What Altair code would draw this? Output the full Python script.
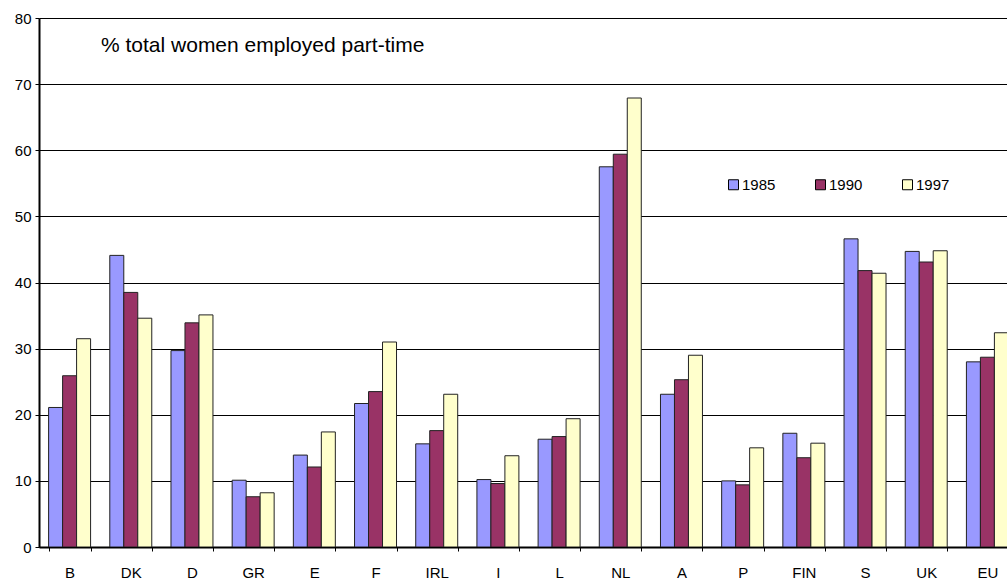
import altair as alt
import pandas as pd

countries = ["B", "DK", "D", "GR", "E", "F", "IRL", "I", "L", "NL", "A", "P", "FIN", "S", "UK", "EU"]
years = ["1985", "1990", "1997"]
v1985 = [21.1, 44.1, 29.7, 10.1, 13.9, 21.7, 15.6, 10.2, 16.3, 57.5, 23.1, 10.0, 17.2, 46.6, 44.7, 28.0]
v1990 = [25.9, 38.5, 33.9, 7.6, 12.1, 23.5, 17.6, 9.6, 16.7, 59.4, 25.3, 9.4, 13.5, 41.8, 43.1, 28.7]
v1997 = [31.5, 34.6, 35.1, 8.2, 17.4, 31.0, 23.1, 13.8, 19.4, 67.9, 29.0, 15.0, 15.7, 41.4, 44.8, 32.4]
colors = ["#9999FF", "#993366", "#FFFFCC"]
title_text = "% total women employed part-time"

rows = []
for yr, vals in zip(years, [v1985, v1990, v1997]):
    for c, v in zip(countries, vals):
        rows.append({"country": c, "year": yr, "value": v})
df = pd.DataFrame(rows)

FONT = "Liberation Sans"

bars = alt.Chart(df).mark_bar(stroke="#222222", strokeWidth=1, clip=True).encode(
    x=alt.X("country:N", sort=countries,
            scale=alt.Scale(range=[0, 979], paddingInner=0.314, paddingOuter=0.157),
            axis=alt.Axis(title=None, labelAngle=0, tickBand="extent", tickSize=4,
                          tickColor="black", domainColor="black", domainWidth=2,
                          labelFont=FONT, labelFontSize=15, labelColor="black",
                          labelPadding=14, grid=False)),
    xOffset=alt.XOffset("year:N", sort=years, scale=alt.Scale(paddingInner=0, paddingOuter=0)),
    y=alt.Y("value:Q", scale=alt.Scale(domain=[0, 80], nice=False),
            axis=alt.Axis(title=None, values=list(range(0, 81, 10)), tickSize=4,
                          tickColor="black", domainColor="black", domainWidth=2,
                          gridColor="black", gridWidth=1, grid=True,
                          labelFont=FONT, labelFontSize=15, labelColor="black",
                          labelPadding=4)),
    color=alt.Color("year:N", sort=years,
                    scale=alt.Scale(domain=years, range=colors),
                    legend=alt.Legend(title=None, orient="none", legendX=687, legendY=159,
                                      direction="horizontal", symbolType="square",
                                      symbolSize=100, symbolStrokeColor="black",
                                      symbolStrokeWidth=1, labelFont=FONT,
                                      labelFontSize=15, labelColor="black",
                                      labelOffset=1, columnPadding=37, padding=0)),
)

title_df = pd.DataFrame({"t": [title_text]})
title = alt.Chart(title_df).mark_text(align="left", baseline="middle", font=FONT,
                                      fontSize=21, color="black").encode(
    x=alt.value(62), y=alt.value(28), text="t:N"
)

chart = alt.layer(bars, title).properties(
    width=968, height=529,
    autosize=alt.AutoSizeParams(type="none"),
    padding={"left": 39, "top": 18, "right": 0, "bottom": 33},
).configure_view(stroke=None).configure(background="white")

chart.save("out.html", embed_options={"renderer": "svg", "actions": False})
